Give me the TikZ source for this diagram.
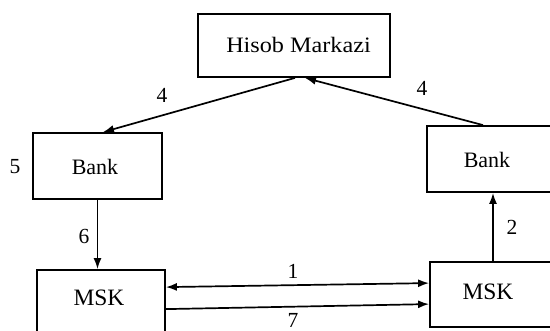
\documentclass[tikz,border=0pt]{standalone}
\usepackage{fontspec}
\usepackage{graphicx}
\setmainfont{Liberation Serif}
\usetikzlibrary{arrows.meta}
\begin{document}
\begin{tikzpicture}[x=1pt,y=-1pt,
  box/.style={draw,line width=1.8pt,rectangle,inner sep=0pt},
  txt/.style={font=\fontsize{22}{24}\selectfont,inner sep=0pt},
  bigtxt/.style={font=\fontsize{23.5}{25}\selectfont,inner sep=0pt},
  num/.style={font=\fontsize{21.5}{23}\selectfont,inner sep=0pt},
  flow/.style={line width=1.7pt,-{Latex[length=11pt,width=8pt]}},
  flowboth/.style={line width=1.7pt,{Latex[length=11pt,width=8pt]}-{Latex[length=11pt,width=8pt]}}]
\useasboundingbox (0,0) rectangle (550,331);
\clip (0,0) rectangle (550,331);
% boxes
\node[box,minimum width=192pt,minimum height=63pt] (hisob) at (294,45.5) {};
\node[txt] (hisobtext) at (298.5,45) {\scalebox{1.1}[1]{Hisob Markazi}};
\node[box,minimum width=129pt,minimum height=66pt] (lbank) at (97.5,166) {};
\node[txt] (lbanktext) at (95,167) {Bank};
\node[box,minimum width=126pt,minimum height=66pt] (rbank) at (490,159) {};
\node[txt] (rbanktext) at (487,160) {Bank};
\node[box,minimum width=128pt,minimum height=80pt] (lmsk) at (101,310) {};
\node[bigtxt] (lmsktext) at (99,298) {MSK};
\node[box,minimum width=124pt,minimum height=65pt] (rmsk) at (492,294.5) {};
\node[bigtxt] (rmsktext) at (488,292) {MSK};
% connectors
\coordinate (htip) at ([xshift=11pt]hisob.south);
\draw[flow] ([xshift=-7pt]rbank.north) -- (htip);
\draw[flow] ([xshift=-10pt]htip) -- ([xshift=5.5pt]lbank.north);
\draw[flow] (lbank.south) -- (lbank.south |- lmsk.north);
\draw[flow] ([xshift=1pt]rmsk.north) -- ([xshift=1pt]rmsk.north |- rbank.south);
\draw[flowboth] ([yshift=-18pt]lmsk.north east) -- ([yshift=-22pt]rmsk.north west);
\draw[flow] ([yshift=-40pt]lmsk.north east) -- ([yshift=-43pt]rmsk.north west);
% labels
\node[num] (l4a) at (162,95) {4};
\node[num] (l4b) at (422,88) {4};
\node[num] (l5) at (15,167) {5};
\node[num] (l6) at (84,236) {6};
\node[num] (l2) at (512,227) {2};
\node[num] (l1) at (293,271) {1};
\node[num] (l7) at (293,320) {7};
\end{tikzpicture}
\end{document}
